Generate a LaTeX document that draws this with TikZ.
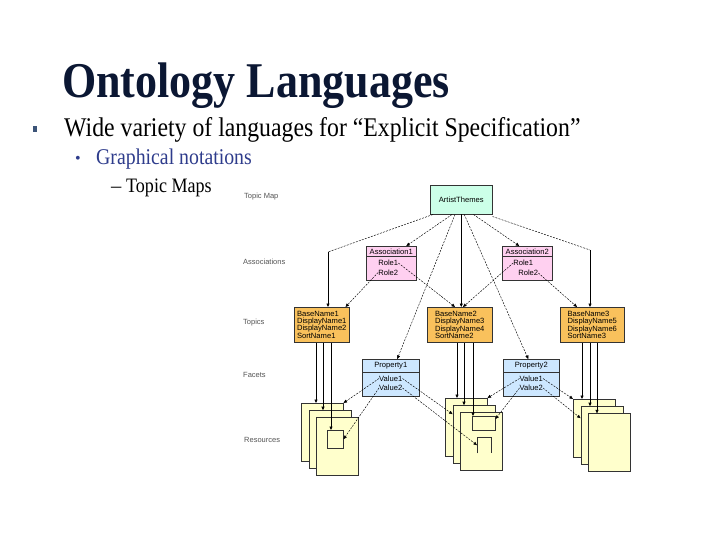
\documentclass[tikz,border=0pt]{standalone}
\usepackage{fontspec}
\setmainfont{Liberation Serif}
\newfontfamily\diagfont{Liberation Sans}
\usetikzlibrary{arrows.meta, positioning, calc}

\definecolor{titlenavy}{HTML}{0B1733}
\definecolor{subblue}{HTML}{2E3C8C}
\definecolor{squarebul}{HTML}{3C5478}
\definecolor{themefill}{HTML}{CCFFE8}
\definecolor{assocfill}{HTML}{FFD0F0}
\definecolor{topicfill}{HTML}{F9C15C}
\definecolor{facetfill}{HTML}{CDE7FF}
\definecolor{pagefill}{HTML}{FFFFCC}
\definecolor{levelgray}{HTML}{555555}

\newcommand{\squeeze}[1]{\scalebox{0.88}[1]{#1}}

\begin{document}
\begin{tikzpicture}[x=1pt, y=-1pt,
  box/.style={draw=black!80, line width=0.5pt, anchor=north west, inner sep=2pt,
              font=\diagfont\fontsize{7.6}{7.3}\selectfont},
  theme/.style={box, fill=themefill, minimum width=62, minimum height=29},
  assoc/.style={box, fill=assocfill, minimum width=50, minimum height=34},
  topic/.style={box, fill=topicfill, minimum width=55, minimum height=35, align=left},
  facet/.style={box, fill=facetfill, minimum width=57, minimum height=37},
  page/.style={box, fill=pagefill, minimum width=42, minimum height=58},
  inbox/.style={font=\diagfont\fontsize{7.6}{8}\selectfont, inner sep=0pt},
  level/.style={font=\diagfont\fontsize{7.5}{8}\selectfont, text=levelgray, anchor=west, inner sep=0pt},
  slide/.style={anchor=base west, inner sep=0pt},
  link/.style={line width=0.6pt, -{Triangle[length=3.5pt, width=3pt]}},
  dlink/.style={link, line width=0.45pt, dash pattern=on 2pt off 1.2pt}]
  \useasboundingbox[fill=white] (0,0) rectangle (720,540);

  % slide text
  \node[slide, text=titlenavy, font=\bfseries\fontsize{50}{55}\selectfont] (title) at (62,98) {\squeeze{Ontology Languages}};
  \node[fill=squarebul, inner sep=0pt, minimum width=4.5, minimum height=5.5] (sq) at (35,129) {};
  \node[slide, font=\fontsize{27}{30}\selectfont] (itemA) at (64,137) {\squeeze{Wide variety of languages for “Explicit Specification”}};
  \node[slide, text=subblue, font=\fontsize{16}{18}\selectfont] (dotB) at (75,164) {•};
  \node[slide, text=subblue, font=\fontsize{22.5}{25}\selectfont] (itemB) at (96,165) {\squeeze{Graphical notations}};
  \node[slide, font=\fontsize{20.5}{23}\selectfont] (dashC) at (111,193) {–};
  \node[slide, font=\fontsize{20.5}{23}\selectfont] (itemC) at (126,193) {\squeeze{Topic Maps}};

  % levels
  \node[level] (lvTM) at (244,197) {Topic Map};
  \node[level] (lvAs) at (243,262) {Associations};
  \node[level] (lvTo) at (243,323) {Topics};
  \node[level] (lvFa) at (243,375) {Facets};
  \node[level] (lvRe) at (244,440) {Resources};

  % topic map
  \node[theme] (theme) at (430,185) {ArtistThemes};

  % associations
  \node[assoc] (assocA) at (366,246) {};
  \node[assoc] (assocB) at (502,246) {};
  \foreach \a in {assocA, assocB}
    \draw[black!80, line width=0.5pt] ($(\a.north west)+(0,10)$) -- ($(\a.north east)+(0,10)$);
  \node[inbox] (assocAh) at ($(assocA.north)+(0,5.5)$) {Association1};
  \node[inbox] (assocAr1) at ($(assocA.north)+(-3,17)$) {Role1};
  \node[inbox] (assocAr2) at ($(assocA.north)+(-3,26.5)$) {Role2};
  \node[inbox] (assocBh) at ($(assocB.north)+(0,5.5)$) {Association2};
  \node[inbox] (assocBr1) at ($(assocB.north)+(-4,17)$) {Role1};
  \node[inbox] (assocBr2) at ($(assocB.north)+(1,27)$) {Role2};

  % topics
  \node[topic] (topicA) at (294,307) {BaseName1\\DisplayName1\\DisplayName2\\SortName1};
  \node[topic, minimum width=65] (topicB) at (427,307) {BaseName2\\DisplayName3\\DisplayName4\\SortName2};
  \node[topic, minimum width=64] (topicC) at (560,307) {BaseName3\\DisplayName5\\DisplayName6\\SortName3};

  % facets
  \node[facet] (propA) at (362,359) {};
  \node[facet, minimum width=56] (propB) at (503,359) {};
  \foreach \p in {propA, propB}
    \draw[black!80, line width=0.5pt] ($(\p.north west)+(0,13)$) -- ($(\p.north east)+(0,13)$);
  \node[inbox] (propAh) at ($(propA.north)+(0,6.5)$) {Property1};
  \node[inbox] (propAv1) at ($(propA.north)+(0,19.5)$) {Value1};
  \node[inbox] (propAv2) at ($(propA.north)+(0,29)$) {Value2};
  \node[inbox] (propBh) at ($(propB.north)+(0,6.5)$) {Property2};
  \node[inbox] (propBv1) at ($(propB.north)+(0,19.5)$) {Value1};
  \node[inbox] (propBv2) at ($(propB.north)+(0,29)$) {Value2};

  % resources
  \foreach \s/\x/\y in {A/301/403, B/445/398, C/573/399}
    \foreach \k in {0,1,2}
      \node[page] (res\s\k) at (\x+7.6*\k, \y+7.2*\k) {};
  \node[box, fill=pagefill, minimum width=16, minimum height=18, inner sep=0pt] (resAin) at (327,430) {};
  \node[box, fill=pagefill, minimum width=23, minimum height=14, inner sep=0pt] (resBin) at (472,416) {};
  \node[inner sep=0pt, minimum width=14, minimum height=16, anchor=north west] (resBslot) at (477,437) {};
  \draw[black!80, line width=0.5pt] (resBslot.south west) |- (resBslot.north east) -- (resBslot.south east);

  % topic map to associations, topics and facets
  \coordinate (bendA) at ($(topicA.north west)+(34,-55)$);
  \coordinate (bendC) at ($(topicC.north west)+(30,-57)$);
  \draw[dlink] ($(theme.south west)+(22,0)$) -- ($(assocA.north)+(15,0)$);
  \draw[dlink, -] ($(theme.south west)+(3,0)$) -- (bendA);
  \draw[link] (bendA) -- ($(topicA.north west)+(34,0)$);
  \draw[dlink] ($(theme.south west)+(25,0)$) -- ($(propA.north)+(6.5,0)$);
  \draw[link] (theme.south) -- (theme.south |- topicB.north);
  \draw[dlink] ($(theme.south)+(3,0)$) -- ($(propB.north)+(-3,0)$);
  \draw[dlink] ($(theme.south east)+(-19,0)$) -- ($(assocB.north)+(-8,0)$);
  \draw[dlink, -] ($(theme.south east)+(0,2)$) -- (bendC);
  \draw[link] (bendC) -- ($(topicC.north west)+(30,0)$);

  % roles
  \draw[dlink] (assocAr1.east) -- ($(topicB.north west)+(28,0)$);
  \draw[dlink] (assocAr2.west) -- ($(topicA.north east)+(-4,0)$);
  \draw[dlink] (assocBr1.west) -- ($(topicB.north west)+(36,0)$);
  \draw[dlink] (assocBr2.east) -- ($(topicC.north west)+(17,0)$);

  % occurrences
  \foreach \t/\dx/\r in {topicA/22/resA0, topicA/29/resA1, topicA/37/resAin,
                         topicB/30/resB0, topicB/37/resB1, topicB/46/resBin,
                         topicC/22/resC0, topicC/30/resC1, topicC/37/resC2}
    \draw[link] ($(\t.south west)+(\dx,0)$) coordinate (from) -- (from |- \r.north);

  % values
  \draw[dlink] (propAv1.west) -- (resA0.north east);
  \draw[dlink] (propAv2.west) -- (resAin.east);
  \draw[dlink] (propAv1.east) -- ($(resB1.north west)+(0,9)$);
  \draw[dlink] (propAv2.east) -- (resBslot.west);
  \draw[dlink] (propBv1.west) -- (resB0.north east);
  \draw[dlink] (propBv2.west) -- ($(resBin.north east)+(0,3)$);
  \draw[dlink] (propBv1.east) -- (resC0.north west);
  \draw[dlink] (propBv2.east) -- ($(resC1.north west)+(0,12)$);
\end{tikzpicture}
\end{document}
